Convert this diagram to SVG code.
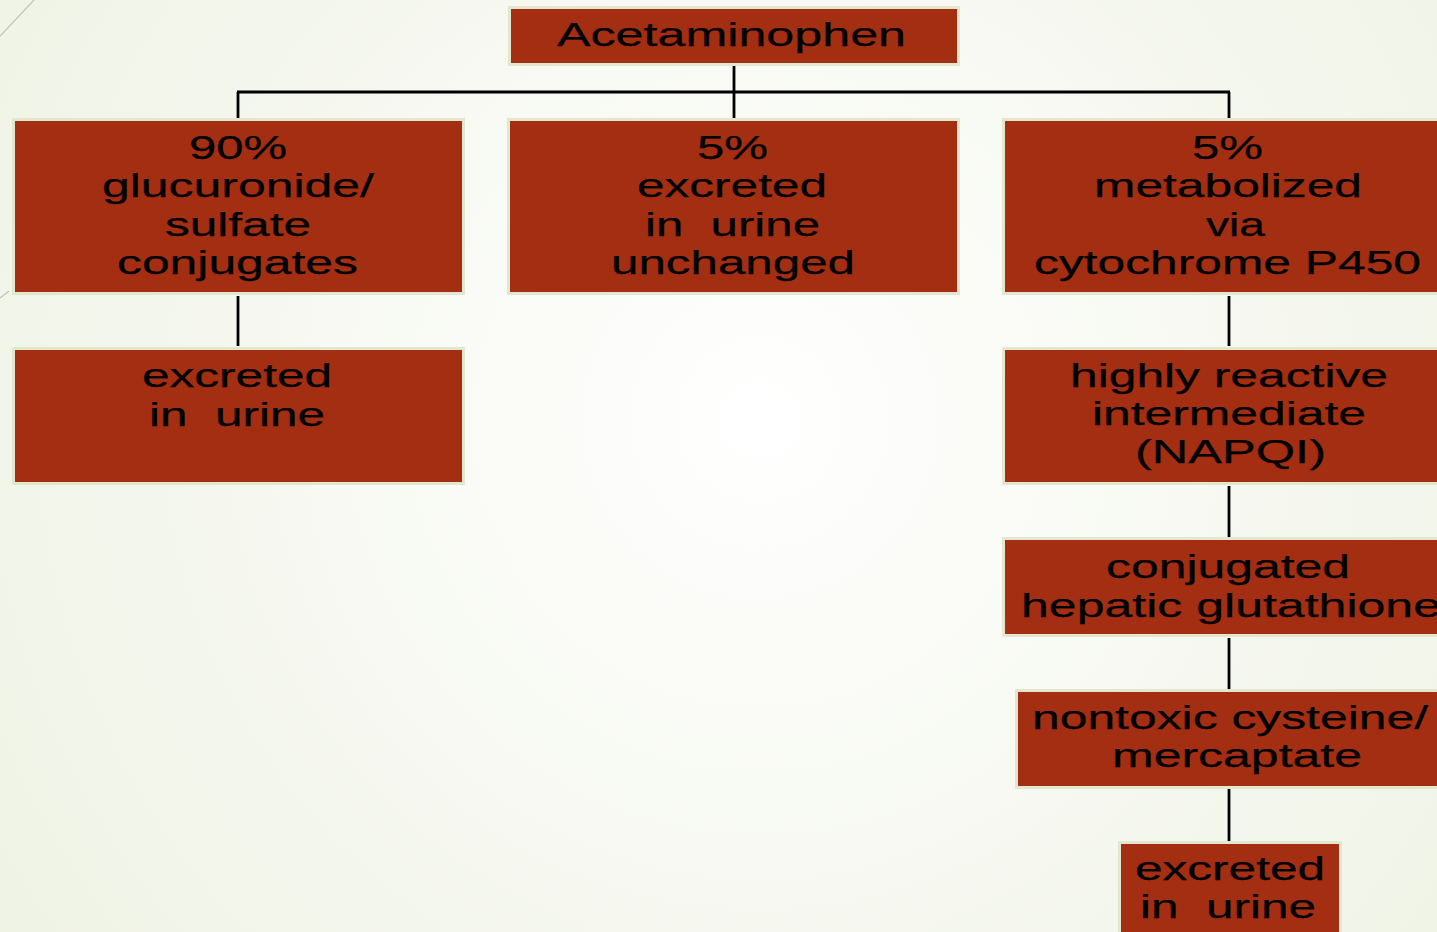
<svg xmlns="http://www.w3.org/2000/svg" width="1437" height="932" viewBox="0 0 1437 932">
<defs>
<radialGradient id="bg" cx="760" cy="420" r="950" gradientUnits="userSpaceOnUse">
<stop offset="0" stop-color="#ffffff"/>
<stop offset="1" stop-color="#eef2e3"/>
</radialGradient>
<style>
.box{fill:#a32e12;stroke:#e4e7cf;stroke-width:3}
.t{font-family:"Liberation Sans",Arial,sans-serif;font-size:33px;fill:#000;stroke:#000;stroke-width:0.25;white-space:pre}
.c{stroke:#000;stroke-width:2.8;fill:none}
.deco{stroke:#bfc3b5;stroke-width:1.2;fill:none}
</style>
</defs>
<rect width="1437" height="932" fill="url(#bg)"/>
<line class="deco" x1="0" y1="36" x2="34" y2="0"/>
<line class="deco" x1="0" y1="298" x2="9" y2="291"/>

<g id="connectors">
<line class="c" x1="734" y1="65" x2="734" y2="118"/>
<line class="c" x1="237" y1="92" x2="1230" y2="92"/>
<line class="c" x1="238" y1="92" x2="238" y2="118"/>
<line class="c" x1="1229" y1="92" x2="1229" y2="118"/>
<line class="c" x1="238" y1="296" x2="238" y2="346"/>
<line class="c" x1="1229" y1="296" x2="1229" y2="346"/>
<line class="c" x1="1229" y1="486" x2="1229" y2="537"/>
<line class="c" x1="1229" y1="638" x2="1229" y2="689"/>
<line class="c" x1="1229" y1="789" x2="1229" y2="841"/>
</g>

<g id="acetaminophen">
<rect class="box" x="509.5" y="7.5" width="449" height="57"/>
<text class="t" x="557" y="46" textLength="349" lengthAdjust="spacingAndGlyphs">Acetaminophen</text>
</g>

<g id="glucuronide">
<rect class="box" x="13.5" y="119.5" width="450" height="174"/>
<text class="t" x="189" y="159" textLength="98" lengthAdjust="spacingAndGlyphs">90%</text>
<text class="t" x="102" y="197" textLength="272" lengthAdjust="spacingAndGlyphs">glucuronide/</text>
<text class="t" x="165" y="236" textLength="146" lengthAdjust="spacingAndGlyphs">sulfate</text>
<text class="t" x="117" y="274" textLength="241" lengthAdjust="spacingAndGlyphs">conjugates</text>
</g>

<g id="unchanged">
<rect class="box" x="508.5" y="119.5" width="450" height="174"/>
<text class="t" x="697" y="159" textLength="71" lengthAdjust="spacingAndGlyphs">5%</text>
<text class="t" x="637" y="197" textLength="190" lengthAdjust="spacingAndGlyphs">excreted</text>
<text class="t" x="645" y="236" textLength="175" lengthAdjust="spacingAndGlyphs">in  urine</text>
<text class="t" x="611" y="274" textLength="244" lengthAdjust="spacingAndGlyphs">unchanged</text>
</g>

<g id="cyp450">
<rect class="box" x="1003.5" y="119.5" width="440" height="174"/>
<text class="t" x="1192" y="159" textLength="71" lengthAdjust="spacingAndGlyphs">5%</text>
<text class="t" x="1094" y="197" textLength="268" lengthAdjust="spacingAndGlyphs">metabolized</text>
<text class="t" x="1206" y="236" textLength="59" lengthAdjust="spacingAndGlyphs">via</text>
<text class="t" x="1034" y="274" textLength="387" lengthAdjust="spacingAndGlyphs">cytochrome P450</text>
</g>

<g id="excreted-left">
<rect class="box" x="13.5" y="348.5" width="450" height="135"/>
<text class="t" x="142" y="387" textLength="190" lengthAdjust="spacingAndGlyphs">excreted</text>
<text class="t" x="149" y="426" textLength="176" lengthAdjust="spacingAndGlyphs">in  urine</text>
</g>

<g id="napqi">
<rect class="box" x="1003.5" y="348.5" width="440" height="135"/>
<text class="t" x="1070" y="387" textLength="318" lengthAdjust="spacingAndGlyphs">highly reactive</text>
<text class="t" x="1092" y="425" textLength="274" lengthAdjust="spacingAndGlyphs">intermediate</text>
<text class="t" x="1135" y="463" textLength="191" lengthAdjust="spacingAndGlyphs">(NAPQI)</text>
</g>

<g id="glutathione">
<rect class="box" x="1003.5" y="538.5" width="440" height="97"/>
<text class="t" x="1106" y="578" textLength="244" lengthAdjust="spacingAndGlyphs">conjugated</text>
<text class="t" x="1021" y="617" textLength="420" lengthAdjust="spacingAndGlyphs">hepatic glutathione</text>
</g>

<g id="cysteine">
<rect class="box" x="1016.5" y="690.5" width="430" height="97"/>
<text class="t" x="1032" y="729" textLength="396" lengthAdjust="spacingAndGlyphs">nontoxic cysteine/</text>
<text class="t" x="1112" y="767" textLength="250" lengthAdjust="spacingAndGlyphs">mercaptate</text>
</g>

<g id="excreted-right">
<rect class="box" x="1119.5" y="842.5" width="221" height="100"/>
<text class="t" x="1135" y="880" textLength="190" lengthAdjust="spacingAndGlyphs">excreted</text>
<text class="t" x="1140" y="918" textLength="176" lengthAdjust="spacingAndGlyphs">in  urine</text>
</g>
</svg>
